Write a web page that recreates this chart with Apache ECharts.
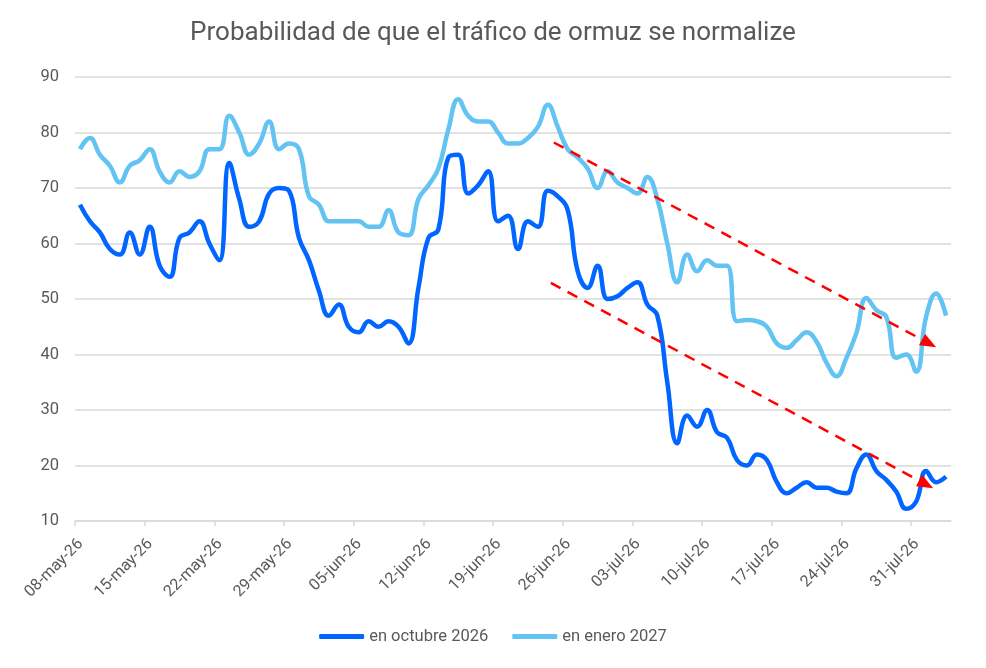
<!DOCTYPE html>
<html>
<head>
<meta charset="utf-8">
<title>Probabilidad ormuz</title>
<script src="https://cdn.jsdelivr.net/npm/echarts@6/dist/echarts.min.js"></script>
<style>
  html, body { margin: 0; padding: 0; background: #fff; }
  #chart { width: 986px; height: 668px; }
</style>
</head>
<body>
<div id="chart"></div>
<script>
// un valor por día, desde el 08-may-26 hasta el 03-ago-26
var tickLabels = ['08-may-26','15-may-26','22-may-26','29-may-26','05-jun-26','12-jun-26','19-jun-26',
                  '26-jun-26','03-jul-26','10-jul-26','17-jul-26','24-jul-26','31-jul-26'];
var octubre2026 = [67,64,62,59,58,62,58,63,56,54,61,62,64,60,57,74.5,68,63,64,69,70,69.5,61,57,51.5,47,
                   49,45,44,46,45,46,45,42,52,61,62.5,75.5,76,69,70.5,73,64,65,59,64,63,69.5,68.5,66,
                   55,52,56,50,50.5,52,53,49,47,35,24,29,27,30,26,25,21,20,22,21,17,15,16,17,16,16,
                   15.3,15,19.5,22,19,17.4,15.3,12.2,13.5,19,17,18];
var enero2027 = [77,79,76,74,71,74,75,77,73,71,73,72,73,77,77,83,80,76,78,82,77,78,77,68.5,67,64,
                 64,64,64,63,63,66,62,61.5,68,70.5,73.5,80.5,86,83,82,82,80,78,78,79,81,85,81,77,
                 75.5,73.5,70,73,71,70,69,72,68,60,53,58,55,57,56,56,46,46.2,46,45,42,41.2,42.6,44,
                 42.3,38.5,36.1,39.4,43.9,50.2,48,46.8,39.4,40,36.9,46.8,51,47];
// flechas rojas de tendencia: [día, valor] inicio y fin
var trendUpper = [[48.1, 78.2], [85.8, 42.0]];
var trendLower = [[47.8, 52.9], [85.5, 16.6]];

var totalDays = octubre2026.length;
var tickValues = [];
for (var i = 0; i < tickLabels.length; i++) tickValues.push(i * 7);

function toPoints(arr) {
    var pts = [];
    for (var i = 0; i < arr.length; i++) pts.push([i + 0.5, arr[i]]);
    return pts;
}

var gray = '#595959';
var gridColor = '#d9d9d9';
var myChart = echarts.init(document.getElementById('chart'));
var option = {
    backgroundColor: '#fff',
    animation: false,
    title: {
        text: 'Probabilidad de que el tráfico de ormuz se normalize',
        left: 'center',
        top: 15,
        textStyle: { color: gray, fontSize: 26, fontWeight: 'normal', fontFamily: 'Roboto' }
    },
    legend: {
        bottom: 18,
        left: 'center',
        itemWidth: 45,
        itemHeight: 5,
        itemGap: 24,
        icon: 'roundRect',
        textStyle: { color: gray, fontSize: 16.5, fontFamily: 'Roboto' },
        data: ['en octubre 2026', 'en enero 2027']
    },
    grid: { left: 75, right: 35, top: 77, bottom: 147 },
    xAxis: {
        type: 'value',
        min: 0,
        max: totalDays,
        interval: 7,
        axisLine: { show: true, lineStyle: { color: gridColor, width: 1.5 } },
        axisTick: { show: true, length: 5, lineStyle: { color: gridColor, width: 1.5 }, customValues: tickValues },
        splitLine: { show: false },
        axisLabel: {
            customValues: tickValues,
            rotate: 45,
            margin: 15,
            align: 'right',
            verticalAlign: 'top',
            color: gray,
            fontSize: 16,
            fontFamily: 'Roboto',
            formatter: function (v) { return tickLabels[Math.round(v / 7)]; }
        }
    },
    yAxis: {
        type: 'value',
        min: 10,
        max: 90,
        interval: 10,
        axisLine: { show: false },
        axisTick: { show: false },
        splitLine: { lineStyle: { color: gridColor, width: 1.5 } },
        axisLabel: { color: gray, fontSize: 16.5, fontFamily: 'Roboto', margin: 16 }
    },
    series: [
        {
            name: 'en octubre 2026',
            type: 'line',
            smooth: 0.45,
            symbol: 'none',
            data: toPoints(octubre2026),
            itemStyle: { color: '#0066ff' },
            lineStyle: { color: '#0066ff', width: 4.5 },
            markLine: {
                silent: true,
                symbol: ['none', 'triangle'],
                symbolSize: [13, 16],
                label: { show: false },
                itemStyle: { color: '#ff0000' },
                lineStyle: { color: '#ff0000', width: 2.5, type: [11, 8] },
                data: [
                    [{ coord: trendUpper[0] }, { coord: trendUpper[1] }],
                    [{ coord: trendLower[0] }, { coord: trendLower[1] }]
                ]
            }
        },
        {
            name: 'en enero 2027',
            type: 'line',
            smooth: 0.45,
            symbol: 'none',
            data: toPoints(enero2027),
            itemStyle: { color: '#63c3f2' },
            lineStyle: { color: '#63c3f2', width: 4.5 }
        }
    ]
};
myChart.setOption(option);
</script>
</body>
</html>
